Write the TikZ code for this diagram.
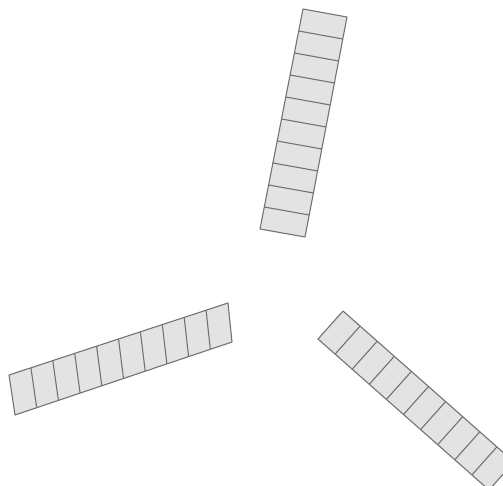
\documentclass[tikz,border=0pt]{standalone}
\usetikzlibrary{calc}
\tikzset{
  stripbox/.style={fill=black!11, draw=black!55, line width=1.1pt, line join=round},
  divider/.style={draw=black!55, line width=1.1pt}
}
% #1 name, #2..#5 corners: #2,#3 first short side; #4,#5 far short side (#3->#4 and #5->#2 long sides)
\newcommand\mystrip[5]{%
  \coordinate (#1a) at #2;
  \coordinate (#1b) at #3;
  \coordinate (#1c) at #4;
  \coordinate (#1d) at #5;
  \path[stripbox] (#1a) -- (#1b) -- (#1c) -- (#1d) -- cycle;
  \foreach \k in {1,...,9}{
    \draw[divider] ($(#1a)!\k/10!(#1d)$) -- ($(#1b)!\k/10!(#1c)$);
  }
}
\begin{document}
\begin{tikzpicture}[x=1pt,y=-1pt]
  \useasboundingbox (0,0) rectangle (503,486);
  \clip (0,0) rectangle (503,486);
  \fill[white] (0,0) rectangle (503,486);
  % top strip
  \mystrip{s1}{(303,9)}{(347,17)}{(305,237)}{(260,229)}
  % bottom-left strip
  \mystrip{s2}{(9,375)}{(15,415)}{(232,342)}{(228,303)}
  % bottom-right strip (runs off the edge)
  \mystrip{s3}{(343,311)}{(318,339)}{(489,490)}{(514,462)}
\end{tikzpicture}
\end{document}
